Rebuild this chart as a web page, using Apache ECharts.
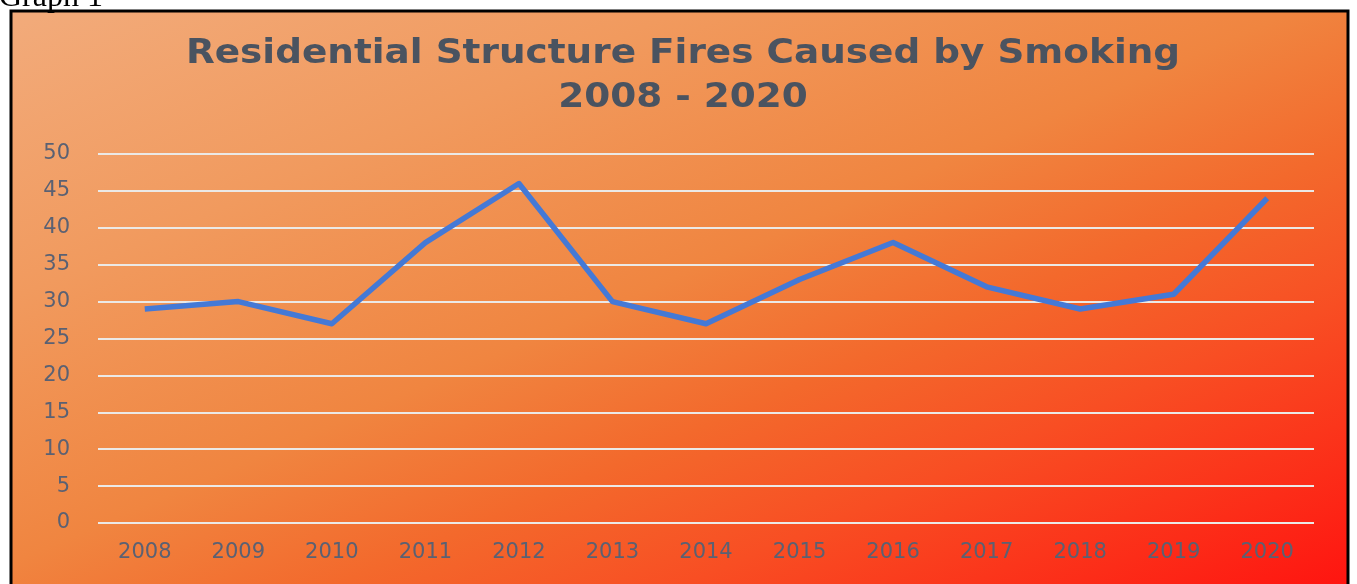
<!DOCTYPE html>
<html>
<head>
<meta charset="utf-8">
<script src="https://cdn.jsdelivr.net/npm/echarts@6/dist/echarts.min.js"></script>
<style>
  html, body { margin: 0; padding: 0; background: #ffffff; }
  #chart { width: 1357px; height: 584px; }
</style>
</head>
<body>
<div id="chart"></div>
<script>
// Residential structure fires caused by smoking, per year
const years = ['2008', '2009', '2010', '2011', '2012', '2013', '2014',
               '2015', '2016', '2017', '2018', '2019', '2020'];
const fires = [29, 30, 27, 38, 46, 30, 27, 33, 38, 32, 29, 31, 44];
const yTicks = { min: 0, max: 50, step: 5 };
const titleLines = ['Residential Structure Fires Caused by Smoking', '2008 - 2020'];

const chart = echarts.init(document.getElementById('chart'), null, { renderer: 'canvas' });

// Panel fill: peach in the top-left corner, deepening to red in the bottom-right.
// Gradient axis chosen so the top-right and bottom-left corners share the same tone.
const panelFill = new echarts.graphic.LinearGradient(11, 11, 428, 982, [
  { offset: 0.0, color: '#f2ab7b' },
  { offset: 0.25, color: '#f19a5e' },
  { offset: 0.48, color: '#f08540' },
  { offset: 0.62, color: '#f3692c' },
  { offset: 0.75, color: '#f84e23' },
  { offset: 1.0, color: '#ff1410' }
], true);

const titleFont = 'bold 34px "DejaVu Sans", sans-serif';
const axisFont = '"DejaVu Sans", sans-serif';

chart.setOption({
  animation: false,
  graphic: [
    {
      type: 'rect',
      z: -10,
      shape: { x: 11, y: 11, width: 1337, height: 590 },
      style: { fill: panelFill, stroke: '#000000', lineWidth: 3 }
    },
    {
      type: 'text',
      x: -1,
      y: -2,
      style: { text: 'Graph 1', font: '32px "Liberation Serif", serif', fill: '#000000', verticalAlign: 'middle' }
    },
    {
      type: 'text',
      x: 683,
      y: 54,
      scaleX: 1.1,
      style: { text: titleLines[0], font: titleFont, fill: '#4a5360', align: 'center', verticalAlign: 'middle' }
    },
    {
      type: 'text',
      x: 683,
      y: 98,
      scaleX: 1.1,
      style: { text: titleLines[1], font: titleFont, fill: '#4a5360', align: 'center', verticalAlign: 'middle' }
    }
  ],
  grid: { left: 98, right: 43, top: 154, bottom: 61, containLabel: false },
  xAxis: {
    type: 'category',
    data: years,
    boundaryGap: true,
    axisLine: { show: false },
    axisTick: { show: false },
    axisLabel: {
      margin: 19,
      fontFamily: axisFont,
      fontSize: 21,
      color: '#5a6173'
    }
  },
  yAxis: {
    type: 'value',
    min: yTicks.min,
    max: yTicks.max,
    interval: yTicks.step,
    axisLine: { show: false },
    axisTick: { show: false },
    axisLabel: {
      margin: 28,
      fontFamily: axisFont,
      fontSize: 21,
      color: '#5a6173'
    },
    splitLine: { lineStyle: { color: '#ebe9e6', width: 2 } }
  },
  series: [{
    type: 'line',
    data: fires,
    symbol: 'none',
    lineStyle: { color: '#4479d6', width: 5.5, join: 'round' }
  }]
});
</script>
</body>
</html>
